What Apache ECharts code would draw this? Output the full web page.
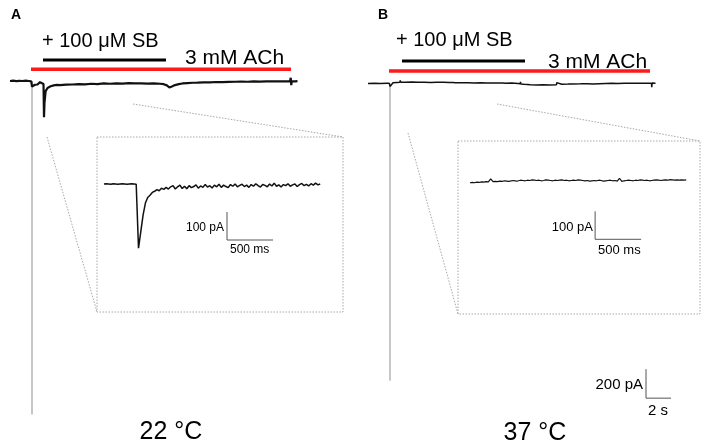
<!DOCTYPE html>
<html><head><meta charset="utf-8">
<script src="https://cdn.jsdelivr.net/npm/echarts@6/dist/echarts.min.js"></script>
<style>html,body{margin:0;padding:0;background:#fff}#c{width:709px;height:447px}</style>
</head><body><div id="c"></div>
<script>
// ---------- DATA ----------
// Panel A (22 °C) whole-cell trace: time (s), current (pA)
const timeA = [0,0.25,0.5,0.75,1.0,1.25,1.5,1.7,1.76,1.85,2.0,2.2,2.4,2.55,2.68,2.72,2.76,2.85,3.0,3.25,3.5,3.75,4.0,4.5,5.0,5.5,6.0,6.5,7.0,7.5,8.0,8.5,9.0,9.5,10.0,10.5,11.0,11.5,12.0,12.3,12.55,12.75,12.95,13.2,13.5,13.8,14.2,14.6,15.0,15.5,16.0,16.5,17.0,17.5,18.0,18.5,19.0,19.5,20.0,20.5,21.0,21.5,22.0,22.4,22.46,22.5,22.54,22.6,22.8,23.0];
const currentA = [0,2,-1,1,0,2,0,-2,-38,-30,-26,-24,-8,-12,-20,-250,-150,-70,-48,-36,-30,-27,-29,-25,-24,-21,-23,-19,-21,-17,-19,-16,-18,-15,-17,-16,-18,-17,-19,-22,-30,-45,-38,-28,-22,-17,-14,-12,-11,-9,-10,-7,-8,-6,-5,-4,-5,-3,-4,-2,-3,-2,-3,-2,22,-28,-2,-1,-2,-1];
// Panel B (37 °C) whole-cell trace
const timeB = [0,0.5,1.0,1.5,1.7,1.76,1.82,2.0,2.3,2.55,2.58,2.62,2.7,3.0,3.5,4.0,4.5,5.0,5.5,6.0,6.5,6.78,6.8,6.83,7.0,7.5,8.0,8.5,9.0,9.5,10.0,10.5,10.78,10.8,10.83,11.0,11.5,12.0,12.18,12.2,12.23,12.5,13.0,13.5,14.0,14.5,15.08,15.1,15.13,15.5,16.0,16.38,16.4,16.43,17.0,17.5,18.0,18.5,19.0,19.5,20.0,20.5,21.0,21.5,22.0,22.5,22.68,22.7,22.73,22.8,23.0];
const currentB = [0,1,0,2,1,-20,-8,5,7,8,22,8,9,8,10,8,9,7,9,8,7,7,20,6,6,5,6,4,5,4,3,4,3,16,2,1,3,0,-2,12,-3,-5,-8,-10,-9,-11,-8,6,-7,-5,-4,-3,10,-3,-2,-1,-3,-1,0,1,0,2,1,2,1,2,2,-25,3,1,2];
// Fast-application insets, sampled every 25 ms
const insetStep = 0.025; // s
const insetA = [0,1,0,-1,1,0,-1,0,1,0,-1,0,1,0,-1,
  -229,-170,-110,-68,-48,-40,-30,-26,-20,-24,-15,-19,-12,-18,-10,
  -6,-18,-10,-4,-16,-8,-17,-6,-13,-9,-3,-15,-7,-12,-2,-11,-6,-14,-4,-10,
  -1,-12,-4,-9,-13,-2,-8,0,-10,-5,-1,-9,-4,-12,-2,-8,1,-6,-11,-2,
  -5,-10,0,-7,3,-8,-3,-11,-2,-6,1,-8,-3,0,-9,-2,2,-6,-1,-7,1,-4,3,-3,0];
const insetB = [-8,-7,-8,-6,-7,-5,-6,-4,-5,6,-4,-3,-4,-2,-3,-1,-2,-3,-1,0,
  -2,-1,1,0,-1,1,0,2,1,0,1,-1,0,2,1,0,-1,1,0,1,
  2,0,1,-1,0,1,0,2,1,0,-1,0,-2,-1,0,-1,1,0,-2,-1,
  0,1,-1,0,-2,8,-3,-1,0,1,0,-1,1,0,2,1,0,1,-1,0,
  1,2,1,0,1,2,1,3,2,1,2,1,2,1,2];
// Drug application periods (s)
const achA = [1.68, 22.48];
const sbA  = [2.64, 12.48];
const achB = [1.68, 22.56];
const sbB  = [2.72, 12.56];
// Saturated onset artefact: time (s), peak (pA)
const spikeTime  = [1.76, 1.76];
const spikeDepth = [-2300, -2050];
// Scale bars: [pA, s]
const scaleMain  = [200, 2];
const scaleInset = [100, 0.5];
// Text
const sbLabel = '+ 100 \u03bcM SB';
const achLabel = '3 mM ACh';
const tempLabels = ['22 \u00b0C', '37 \u00b0C'];
const panelLabels = ['A', 'B'];

// ---------- CHART ----------
const FONT = 'Liberation Sans, Arial, Helvetica, sans-serif';
const chart = echarts.init(document.getElementById('c'));
const zip = (t, v) => t.map((x, i) => [x, v[i]]);
const seq = (v, dt) => v.map((y, i) => [+(i * dt).toFixed(4), y]);

const mainX = {min: 0, max: 24.5};
const insetX = {min: 0, max: 2.5};
function ax(i, r) { return {type: 'value', gridIndex: i, min: r.min, max: r.max, show: false}; }

// scale-bar anchors (layout)
const mainBarAnchor = [22.24, -1970];
const insetBarAnchorA = [1.337, -100];
const insetBarAnchorB = [1.36, -110];
function scaleBar(anchor, sc, xi) {
  return {type: 'line', xAxisIndex: xi, yAxisIndex: xi, symbol: 'none', clip: false, z: 3,
    lineStyle: {color: '#555', width: 1},
    data: [[anchor[0], anchor[1]], [anchor[0], anchor[1] - sc[0]], [anchor[0] + sc[1], anchor[1] - sc[0]]]};
}
function trace(data, xi, w) {
  return {type: 'line', xAxisIndex: xi, yAxisIndex: xi, symbol: 'none', clip: false, z: 4,
    lineStyle: {color: '#111', width: w}, data};
}
function spike(i, xi) {
  return {type: 'line', xAxisIndex: xi, yAxisIndex: xi, symbol: 'none', clip: false, z: 2,
    lineStyle: {color: '#b5b5b5', width: 1.5}, data: [[spikeTime[i], 0], [spikeTime[i], spikeDepth[i]]]};
}
function bar(range, level, color, w, xi) {
  return {type: 'line', xAxisIndex: xi, yAxisIndex: xi, symbol: 'none', clip: false,
    lineStyle: {color, width: w}, data: [[range[0], level], [range[1], level]]};
}

const dotted = {stroke: '#a8a8a8', lineWidth: 1, lineDash: [1.5, 1.5], fill: null};
function txt(x, y, text, size, align, weight) {
  return {type: 'text', x, y, style: {text, font: (weight || 'normal') + ' ' + size + 'px ' + FONT,
    fill: '#000', textAlign: align || 'left', textVerticalAlign: 'middle'}};
}

chart.setOption({
  animation: false,
  backgroundColor: '#fff',
  grid: [
    {left: 10, top: 66.5, width: 306.25, height: 362.5},
    {left: 368, top: 69, width: 306.25, height: 362.5},
    {left: 10, top: 60, width: 306.25, height: 9.3},
    {left: 368, top: 61, width: 306.25, height: 10},
    {left: 104, top: 170, width: 230, height: 98},
    {left: 470, top: 166.5, width: 230, height: 98}
  ],
  xAxis: [ax(0, mainX), ax(1, mainX), ax(2, mainX), ax(3, mainX), ax(4, insetX), ax(5, insetX)],
  yAxis: [ax(0, {min: -2400, max: 100}), ax(1, {min: -2400, max: 100}),
          ax(2, {min: 0, max: 1}), ax(3, {min: 0, max: 1}),
          ax(4, {min: -300, max: 50}), ax(5, {min: -300, max: 50})],
  series: [
    spike(0, 0), trace(zip(timeA, currentA), 0, 2.2),
    spike(1, 1), trace(zip(timeB, currentB), 1, 1.5),
    scaleBar(mainBarAnchor, scaleMain, 1),
    bar(achA, 0, '#ff1a1a', 3.5, 2), bar(sbA, 1, '#000', 3, 2),
    bar(achB, 0, '#ff1a1a', 3.5, 3), bar(sbB, 1, '#000', 3, 3),
    trace(seq(insetA, insetStep), 4, 1.5), scaleBar(insetBarAnchorA, scaleInset, 4),
    trace(seq(insetB, insetStep), 5, 1.2), scaleBar(insetBarAnchorB, scaleInset, 5)
  ],
  graphic: [
    {type: 'rect', shape: {x: 97, y: 137, width: 246, height: 175}, style: dotted, silent: true},
    {type: 'line', shape: {x1: 133, y1: 104, x2: 343, y2: 137}, style: dotted, silent: true},
    {type: 'line', shape: {x1: 47, y1: 137, x2: 97, y2: 312}, style: dotted, silent: true},
    {type: 'rect', shape: {x: 458, y: 141, width: 242, height: 173}, style: dotted, silent: true},
    {type: 'line', shape: {x1: 497, y1: 104, x2: 700, y2: 141}, style: dotted, silent: true},
    {type: 'line', shape: {x1: 408, y1: 133, x2: 458, y2: 314}, style: dotted, silent: true},
    txt(11, 15, panelLabels[0], 14, 'left', 'bold'),
    txt(378, 15, panelLabels[1], 14, 'left', 'bold'),
    txt(42, 41, sbLabel, 20),
    txt(185, 58, achLabel, 21),
    txt(396, 40, sbLabel, 20),
    txt(548, 62, achLabel, 21),
    txt(171, 432, tempLabels[0], 25, 'center'),
    txt(535, 433, tempLabels[1], 25, 'center'),
    txt(224, 228, scaleInset[0] + ' pA', 12, 'right'),
    txt(230, 250, (scaleInset[1] * 1000) + ' ms', 12),
    txt(593, 227, scaleInset[0] + ' pA', 13, 'right'),
    txt(598, 250, (scaleInset[1] * 1000) + ' ms', 13),
    txt(643, 385, scaleMain[0] + ' pA', 15, 'right'),
    txt(648, 411, scaleMain[1] + ' s', 15)
  ]
});
</script></body></html>
